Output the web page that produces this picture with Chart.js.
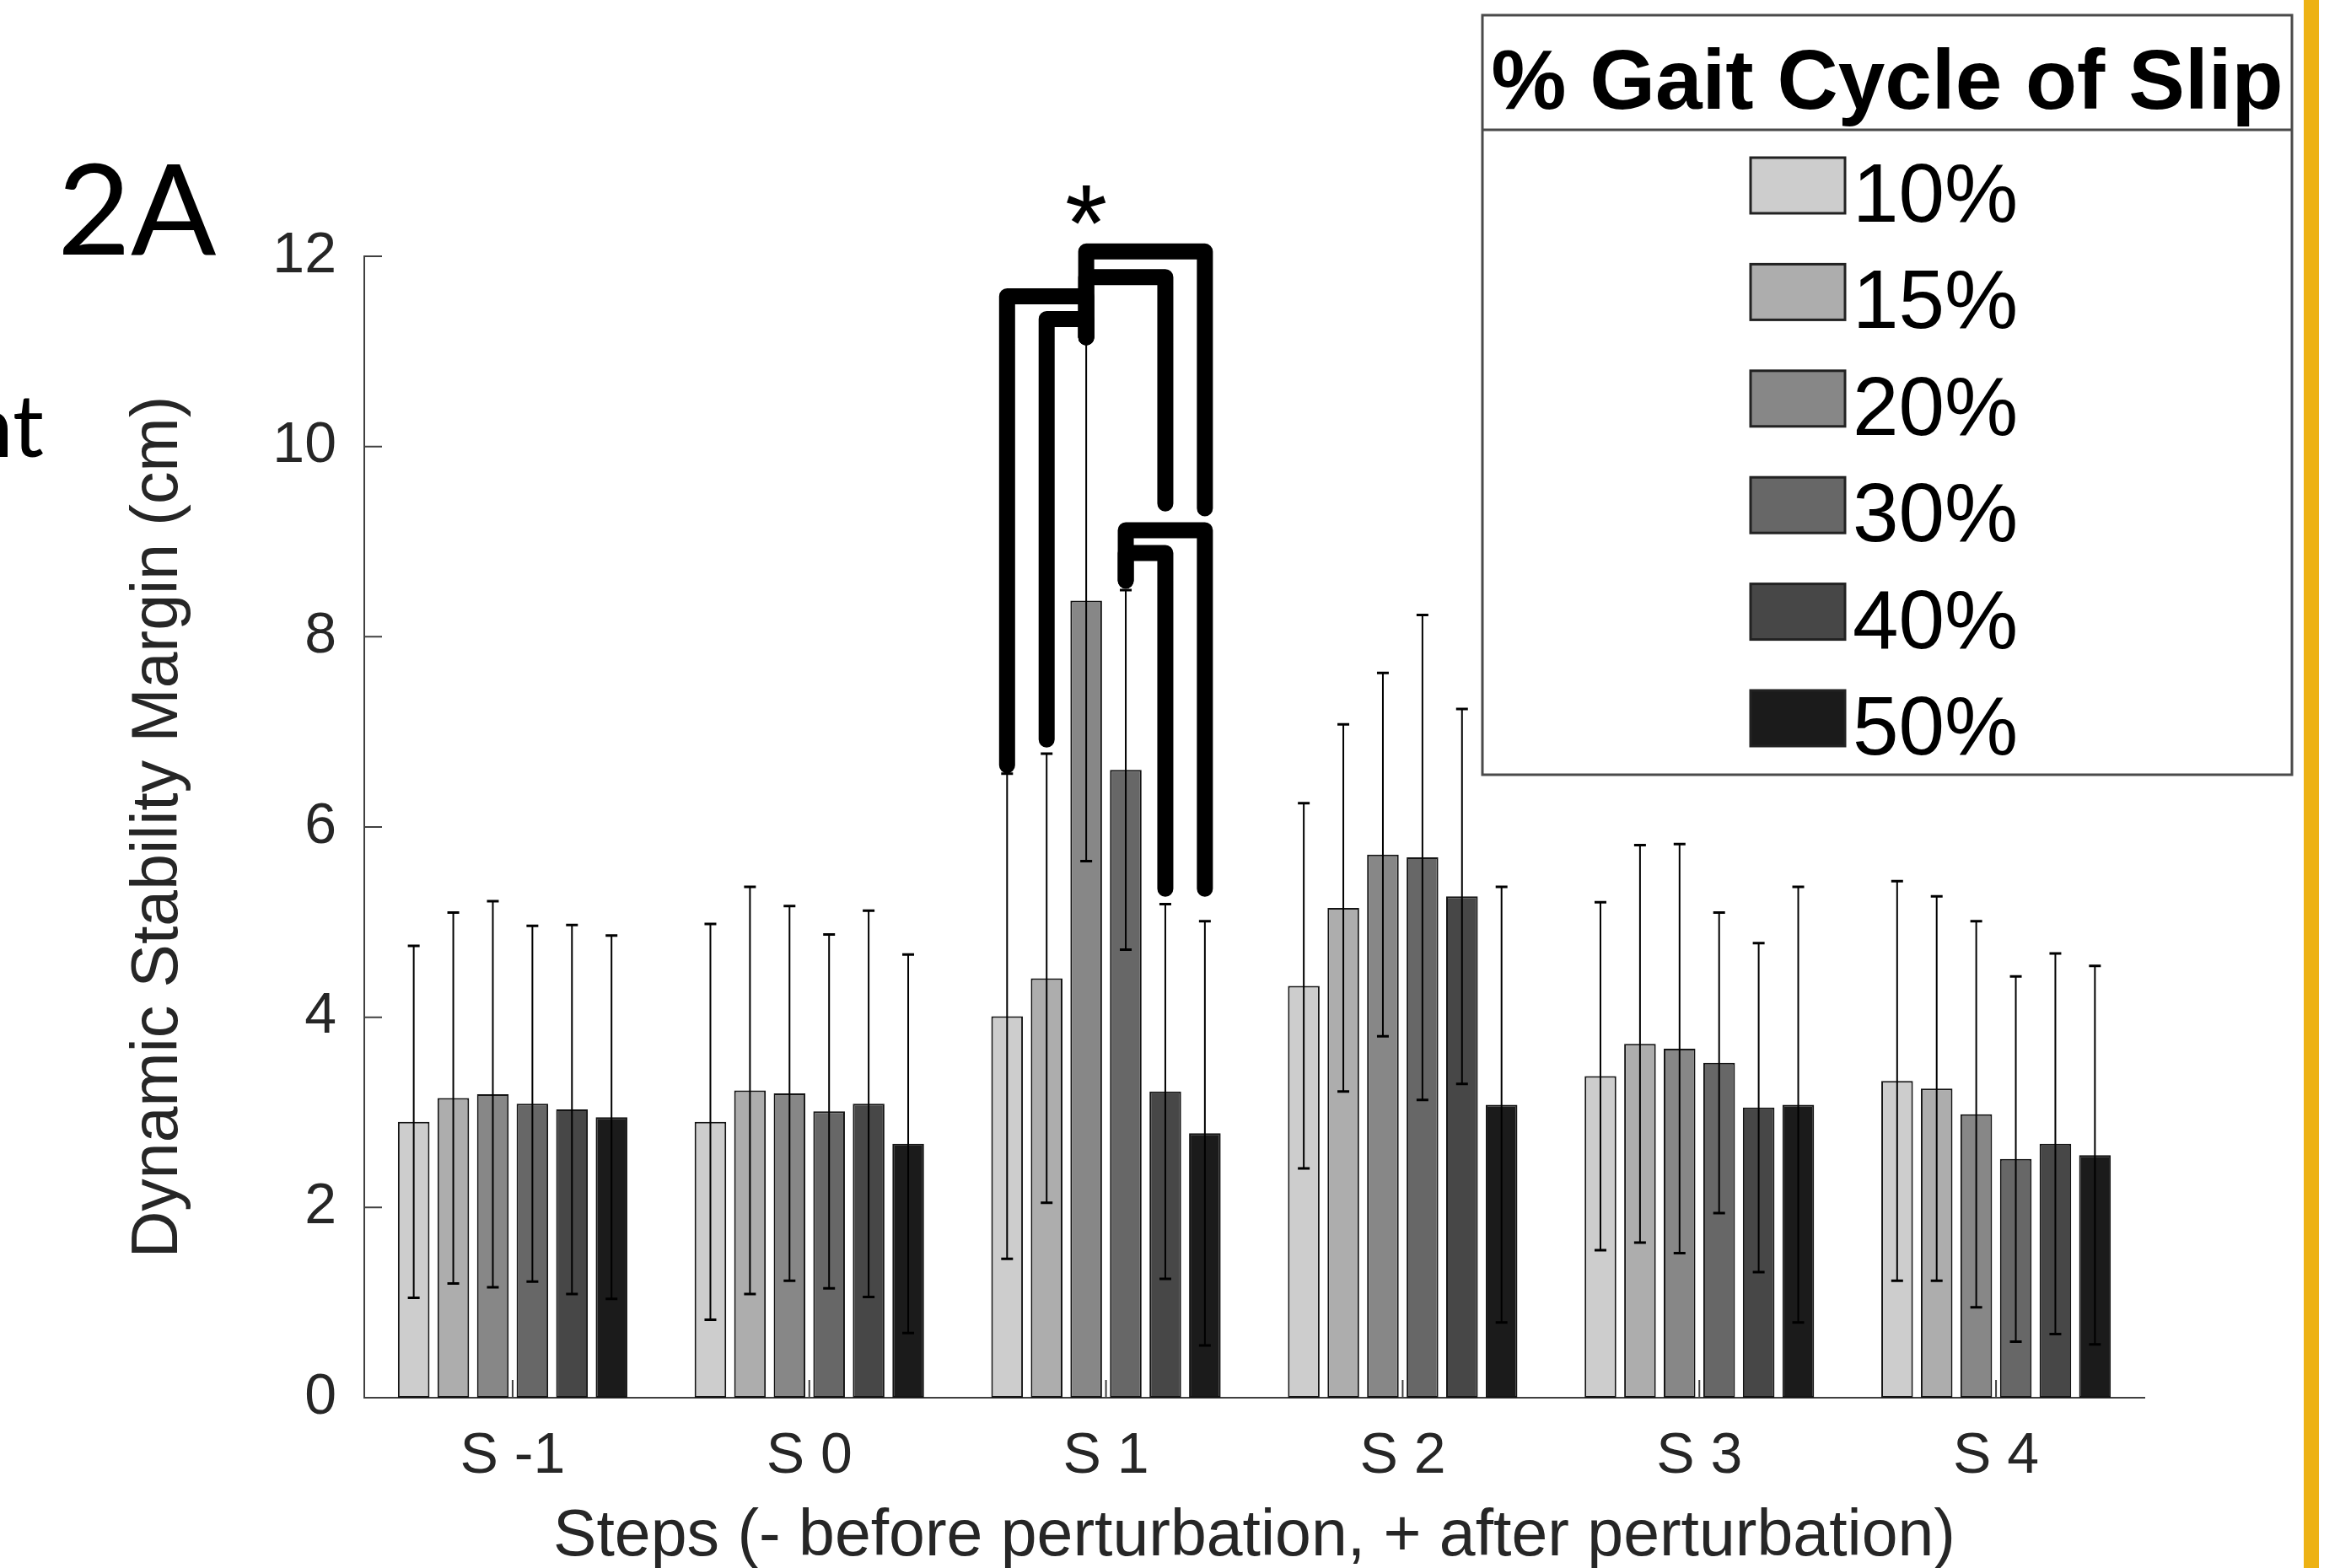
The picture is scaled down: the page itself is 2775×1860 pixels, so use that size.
<!DOCTYPE html>
<html><head><meta charset="utf-8">
<script src="https://cdn.jsdelivr.net/npm/chart.js@4.4.0/dist/chart.umd.min.js"></script>
<style>html,body{margin:0;padding:0;background:#fff;overflow:hidden}canvas{display:block}</style>
</head><body>
<canvas id="c" width="2775" height="1860"></canvas>
<script>
// ---- data ----
const categories = ['S -1', 'S 0', 'S 1', 'S 2', 'S 3', 'S 4'];
const seriesLabels = ['10%', '15%', '20%', '30%', '40%', '50%'];
const seriesColors = ['#cdcdcd', '#adadad', '#878787', '#676767', '#474747', '#1b1b1b'];
const mean10 = [2.90, 2.90, 4.01, 4.33, 3.38, 3.33];
const mean15 = [3.15, 3.23, 4.41, 5.15, 3.72, 3.25];
const mean20 = [3.19, 3.20, 8.38, 5.71, 3.67, 2.98];
const mean30 = [3.09, 3.01, 6.60, 5.68, 3.52, 2.51];
const mean40 = [3.03, 3.09, 3.22, 5.27, 3.05, 2.67];
const mean50 = [2.95, 2.67, 2.78, 3.08, 3.08, 2.55];
const sd10 = [1.85, 2.08, 2.55, 1.92, 1.83, 2.10];
const sd15 = [1.95, 2.14, 2.36, 1.93, 2.09, 2.02];
const sd20 = [2.03, 1.97, 2.74, 1.91, 2.15, 2.03];
const sd30 = [1.87, 1.86, 1.89, 2.55, 1.58, 1.92];
const sd40 = [1.94, 2.03, 1.97, 1.97, 1.73, 2.00];
const sd50 = [1.91, 1.99, 2.23, 2.29, 2.29, 1.99];
const yTicks = [0, 2, 4, 6, 8, 10, 12];
const xTitle = 'Steps (- before perturbation, + after perturbation)';
const yTitle = 'Dynamic Stability Margin (cm)';
const legendTitle = '% Gait Cycle of Slip';
const panelLabel = '2A';
const sideText = 'nt';
// significance brackets (group index, from-series, to-series, levels in cm)
const bracketGroup = [2, 2, 2, 2, 2, 2];
const bracketFrom = [2, 2, 0, 1, 3, 3];
const bracketTo = [5, 4, 2, 2, 5, 4];
const bracketTop = [12.05, 11.78, 11.58, 11.34, 9.12, 8.88];
const bracketFromEnd = [11.15, 11.15, 6.65, 6.92, 8.59, 8.59];
const bracketToEnd = [9.35, 9.40, 11.15, 11.15, 5.35, 5.35];
const starGroup = 2, starSeries = 2, starValue = 12.54;

const means = [mean10, mean15, mean20, mean30, mean40, mean50];
const sds = [sd10, sd15, sd20, sd30, sd40, sd50];
const FONT = "'Liberation Sans', Arial, sans-serif";
const TXT = '#262626';

const errorBars = {
  id: 'errorBars',
  afterDatasetsDraw(chart) {
    const ctx = chart.ctx, y = chart.scales.y;
    ctx.save();
    ctx.strokeStyle = '#000';
    chart.data.datasets.forEach((ds, i) => {
      const meta = chart.getDatasetMeta(i);
      meta.data.forEach((el, j) => {
        const m = means[i][j], s = sds[i][j];
        const yt = y.getPixelForValue(m + s), yb = y.getPixelForValue(m - s);
        ctx.lineWidth = 2;
        ctx.beginPath(); ctx.moveTo(el.x, yt); ctx.lineTo(el.x, yb); ctx.stroke();
        ctx.lineWidth = 3;
        ctx.beginPath();
        ctx.moveTo(el.x - 7, yt); ctx.lineTo(el.x + 7, yt);
        ctx.moveTo(el.x - 7, yb); ctx.lineTo(el.x + 7, yb);
        ctx.stroke();
      });
    });
    ctx.restore();
  }
};

const decor = {
  id: 'decor',
  afterDraw(chart) {
    const ctx = chart.ctx, x = chart.scales.x, y = chart.scales.y, ca = chart.chartArea;
    ctx.save();
    // inward tick marks
    ctx.strokeStyle = '#404040'; ctx.lineWidth = 2;
    ctx.beginPath();
    y.ticks.forEach((t, i) => { const p = y.getPixelForTick(i); ctx.moveTo(ca.left, p); ctx.lineTo(ca.left + 21, p); });
    x.ticks.forEach((t, i) => { const p = x.getPixelForTick(i); ctx.moveTo(p, ca.bottom); ctx.lineTo(p, ca.bottom - 21); });
    ctx.stroke();

    // brackets
    ctx.strokeStyle = '#000'; ctx.lineWidth = 19; ctx.lineJoin = 'round'; ctx.lineCap = 'round';
    for (let k = 0; k < bracketFrom.length; k++) {
      const g = bracketGroup[k];
      const x1 = chart.getDatasetMeta(bracketFrom[k]).data[g].x;
      const x2 = chart.getDatasetMeta(bracketTo[k]).data[g].x;
      ctx.beginPath();
      ctx.moveTo(x1, y.getPixelForValue(bracketFromEnd[k]));
      ctx.lineTo(x1, y.getPixelForValue(bracketTop[k]));
      ctx.lineTo(x2, y.getPixelForValue(bracketTop[k]));
      ctx.lineTo(x2, y.getPixelForValue(bracketToEnd[k]));
      ctx.stroke();
    }
    // asterisk
    const sx = chart.getDatasetMeta(starSeries).data[starGroup].x;
    const sy = y.getPixelForValue(starValue);
    ctx.font = '160px ' + FONT;
    let mm = ctx.measureText('*');
    const hh = mm.actualBoundingBoxAscent + mm.actualBoundingBoxDescent;
    const fs = 160 * 46 / hh;
    ctx.font = fs + 'px ' + FONT;
    mm = ctx.measureText('*');
    ctx.fillStyle = '#000'; ctx.textAlign = 'center'; ctx.textBaseline = 'alphabetic';
    ctx.fillText('*', sx, sy + (mm.actualBoundingBoxAscent - mm.actualBoundingBoxDescent) / 2);

    // legend
    const L = {x: 1758, y: 18, w: 960, h: 901, sep: 154};
    ctx.fillStyle = '#fff'; ctx.fillRect(L.x, L.y, L.w, L.h);
    ctx.strokeStyle = '#4a4a4a'; ctx.lineWidth = 3; ctx.lineCap = 'butt'; ctx.lineJoin = 'miter';
    ctx.strokeRect(L.x, L.y, L.w, L.h);
    ctx.beginPath(); ctx.moveTo(L.x, L.sep); ctx.lineTo(L.x + L.w, L.sep); ctx.stroke();
    ctx.fillStyle = '#000'; ctx.textAlign = 'center';
    ctx.font = 'bold 100px ' + FONT;
    ctx.fillText(legendTitle, L.x + L.w / 2, 129);
    ctx.textAlign = 'left';
    ctx.font = '98px ' + FONT;
    chart.data.datasets.forEach((ds, i) => {
      const cy = 220 + i * 126.4;
      ctx.fillStyle = ds.backgroundColor;
      ctx.fillRect(2076, cy - 33, 112, 66);
      ctx.strokeStyle = '#222'; ctx.lineWidth = 3;
      ctx.strokeRect(2076, cy - 33, 112, 66);
      ctx.fillStyle = '#000';
      ctx.fillText(ds.label, 2197, cy + 43);
    });

    // panel label and side text
    ctx.fillStyle = '#000';
    ctx.font = '150px Lato, "Open Sans", sans-serif';
    ctx.textAlign = 'left';
    ctx.fillText(panelLabel, 68, 302);
    ctx.font = '103px Lato, "Open Sans", sans-serif';
    ctx.textAlign = 'right';
    ctx.fillText(sideText, 52, 542);

    // yellow edge bar
    ctx.fillStyle = '#edb214';
    ctx.fillRect(2732, 0, 18, chart.height);
    ctx.restore();
  }
};

new Chart(document.getElementById('c'), {
  type: 'bar',
  data: {
    labels: categories,
    datasets: seriesLabels.map((lab, i) => ({
      label: lab,
      data: means[i],
      backgroundColor: seriesColors[i],
      borderColor: '#141414',
      borderWidth: 2,
      borderSkipped: false,
      categoryPercentage: 0.8,
      barPercentage: 0.8
    }))
  },
  options: {
    responsive: false,
    animation: false,
    devicePixelRatio: 1,
    layout: {padding: {left: 0, top: 304, right: 232, bottom: 0}},
    plugins: {legend: {display: false}, tooltip: {enabled: false}},
    scales: {
      x: {
        grid: {display: false},
        border: {display: true, color: '#404040', width: 2},
        ticks: {font: {family: FONT, size: 68}, color: TXT, padding: 21, maxRotation: 0, autoSkip: false},
        title: {display: true, text: xTitle, color: TXT, font: {family: FONT, size: 77, lineHeight: 0.95}, padding: {top: 0, bottom: 0}},
        afterFit: s => { s.height = 202; }
      },
      y: {
        min: 0, max: 12,
        afterBuildTicks: s => { s.ticks = yTicks.map(v => ({value: v})); },
        grid: {display: false},
        border: {display: true, color: '#404040', width: 2},
        ticks: {font: {family: FONT, size: 68}, color: TXT, padding: 25},
        title: {display: true, text: yTitle, color: TXT, font: {family: FONT, size: 77, lineHeight: 1}, padding: {top: 150, bottom: 0}},
        afterFit: s => { s.width = 432; }
      }
    }
  },
  plugins: [errorBars, decor]
});
</script>
</body></html>
